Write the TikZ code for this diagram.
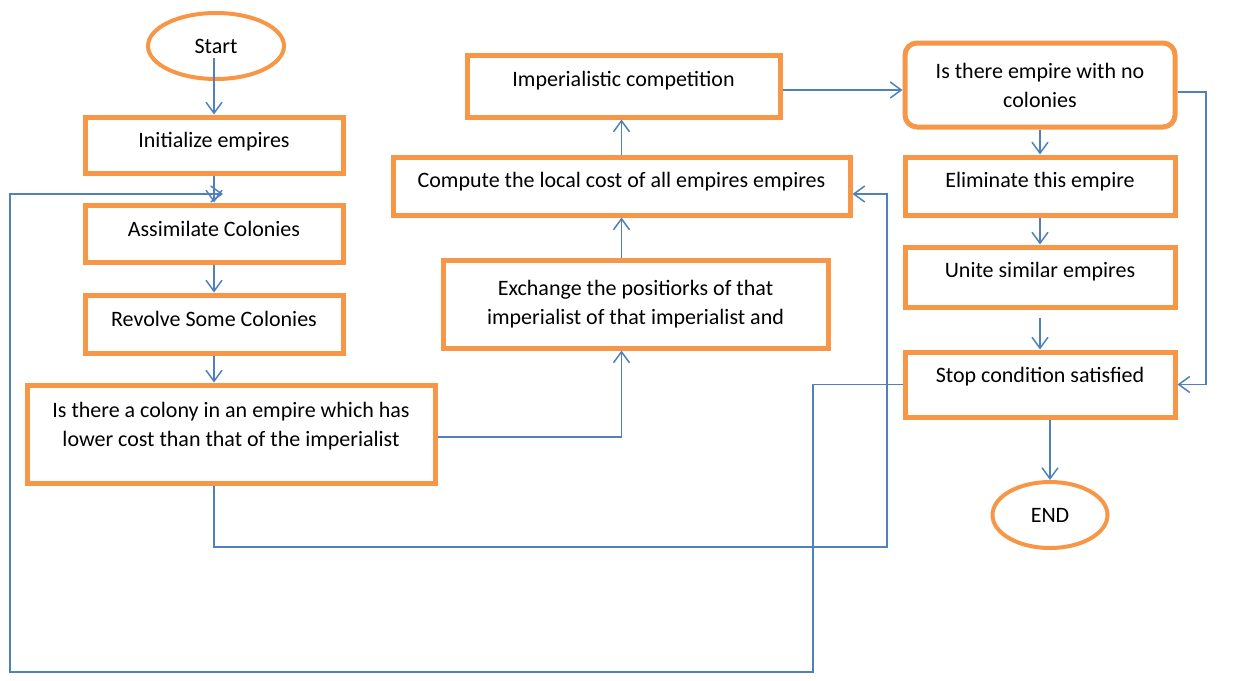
\documentclass[tikz,border=0pt]{standalone}
\usepackage{fontspec}
\setmainfont{Carlito}
\usetikzlibrary{arrows.meta,shapes.geometric}
\definecolor{boxorange}{HTML}{F79646}
\definecolor{lineblue}{HTML}{4F81BD}
\begin{document}
\begin{tikzpicture}[x=0.5pt,y=-0.5pt,
  box/.style={draw=boxorange, line width=2.5pt, fill=white, align=center,
    font=\fontsize{11}{14.5}\selectfont, inner sep=0pt, text=black},
  onel/.style={text height=8pt, text depth=#1},
  term/.style={ellipse, draw=boxorange, line width=2pt, fill=white, inner sep=0pt,
    font=\fontsize{11}{14}\selectfont, text=black},
  arr/.style={draw=lineblue, line width=0.75pt, -{Straight Barb[length=5.5pt,width=8pt]}},
  ln/.style={draw=lineblue, line width=0.75pt}
]
\useasboundingbox (0,0) rectangle (1236,680);
% left column
\node[term, minimum width=68pt, minimum height=33pt] (start) at (216,46) {Start};
\node[box, onel=5.5pt, minimum width=129pt, minimum height=28pt] (init) at (214,145) {Initialize empires};
\node[box, onel=5pt, minimum width=129pt, minimum height=28.5pt] (assim) at (214,233.5) {Assimilate Colonies};
\node[box, onel=5.5pt, minimum width=129pt, minimum height=29pt] (revolve) at (214,324) {Revolve Some Colonies};
\node[box, text depth=10pt, minimum width=204pt, minimum height=49pt] (iscol) at (231,434) {Is there a colony in an empire which has\\lower cost than that of the imperialist};
% middle column
\node[box, onel=7.5pt, minimum width=156.5pt, minimum height=31pt] (imp) at (623.5,86) {Imperialistic competition};
\node[box, onel=7pt, minimum width=228.5pt, minimum height=29pt] (comp) at (621.5,186) {Compute the local cost of all empires empires};
\node[box, minimum width=192.5pt, minimum height=44pt] (exch) at (635.5,304) {Exchange the positiorks of that\\imperialist of that imperialist and};
% right column
\node[box, rounded corners=6pt, minimum width=135pt, minimum height=42pt] (isemp) at (1040,85) {Is there empire with no\\colonies};
\node[box, onel=7pt, minimum width=135pt, minimum height=29pt] (elim) at (1040,186) {Eliminate this empire};
\node[box, onel=8pt, minimum width=135pt, minimum height=30pt] (unite) at (1040,277) {Unite similar empires};
\node[box, onel=10pt, minimum width=135pt, minimum height=32.5pt] (stop) at (1040,384.5) {Stop condition satisfied};
\node[term, minimum width=57.5pt, minimum height=33pt] (end) at (1050,515) {END};
% helper coordinates
\coordinate (lb1) at (887,547);
\coordinate (rb) at (1206,92);
\coordinate (lp1) at (813,672);
\coordinate (lp2) at (10,194);
\coordinate (lpend) at (223,194);
% connectors
\draw[arr] ([yshift=-6pt]start.center -| init.north) -- (init.north);
\draw[arr] (init) -- (assim);
\draw[arr] (assim) -- (revolve);
\draw[arr] (revolve.south) -- (revolve.south |- iscol.north);
\draw[arr] ([yshift=-1.5pt]iscol.east) -| (comp.south |- exch.south);
\draw[arr] (comp.south |- exch.north) -- (comp.south);
\draw[arr] (comp.north) -- (comp.north |- imp.south);
\draw[arr] ([yshift=-2pt]imp.east) -- ([yshift=-2pt]imp.east -| isemp.west);
\draw[arr] (iscol.south -| init.south) |- (lb1) |- ([yshift=-4pt]comp.east);
\draw[arr] (isemp.east |- rb) -- (rb) |- (stop.east);
\draw[arr] (isemp) -- (elim);
\draw[arr] (elim) -- (unite);
\draw[arr] ([yshift=-4pt]unite.south) -- (stop.north);
\draw[arr] (stop.south -| end.north) -- (end.north);
\draw[arr] (stop.west) -| (lp1) -| (lp2) -- (lpend);
\end{tikzpicture}
\end{document}
